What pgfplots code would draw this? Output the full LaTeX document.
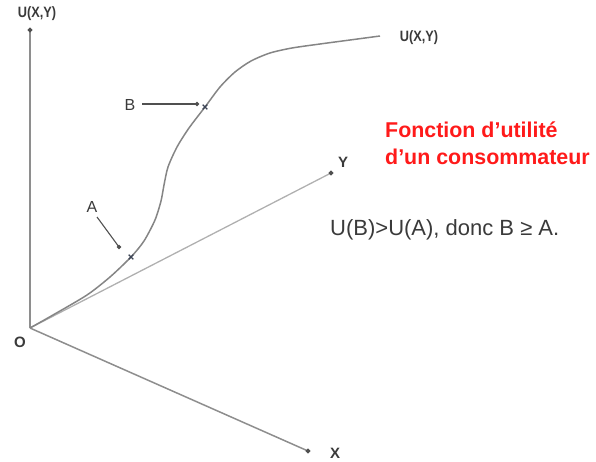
\documentclass[border=0pt]{standalone}
\usepackage{fontspec}
\setmainfont{Liberation Sans}
\usepackage{pgfplots}
\pgfplotsset{compat=1.18}

\definecolor{axisgray}{HTML}{8E8E8E}
\definecolor{curvegray}{HTML}{858585}
\definecolor{lightgray}{HTML}{B0B0B0}
\definecolor{arrowgray}{HTML}{505050}
\definecolor{txt}{HTML}{3A3A3A}
\definecolor{markc}{HTML}{3C4455}
\definecolor{titlered}{HTML}{FF1A1A}

\begin{document}
\begin{tikzpicture}
\begin{axis}[
  hide axis, scale only axis,
  width=596pt, height=461pt,
  xmin=0, xmax=596, ymin=0, ymax=461,
  clip=false,
]
% axes of the utility surface: U vertical, X and Y in perspective
\addplot[axisgray, line width=1.5pt, mark=*, mark indices={2}, mark size=1.6pt,
  mark options={fill=arrowgray, draw=arrowgray}] coordinates {(30,133) (30,431)};
\addplot[axisgray, line width=1.5pt, mark=*, mark indices={2}, mark size=1.6pt,
  mark options={fill=arrowgray, draw=arrowgray}] coordinates {(30,133) (308,10)};
\addplot[lightgray, line width=1.3pt, mark=*, mark indices={2}, mark size=1.6pt,
  mark options={fill=arrowgray, draw=arrowgray}] coordinates {(30,133) (331,288)};

% utility curve U(X,Y)
\addplot[curvegray, line width=1.5pt, smooth, tension=0.45] coordinates {
  (30,133) (53,146) (87,166) (110,184) (131,204) (144,220) (155,241)
  (161,260) (164,276) (168,294) (177,314) (189,333) (205,354)
  (220,374) (235,389) (251,400) (270,408) (292,413) (320,417) (350,421) (380,425)};

% bundles A and B on the curve
\addplot[only marks, mark=x, mark size=3.2pt, markc, line width=1.4pt]
  coordinates {(131,204) (205,354)};

% pointers to A and B
\addplot[arrowgray, line width=1.1pt, mark=*, mark indices={2}, mark size=1.5pt,
  mark options={fill=arrowgray}] coordinates {(97,244) (119,214)};
\addplot[arrowgray, line width=1.1pt, mark=*, mark indices={2}, mark size=1.5pt,
  mark options={fill=arrowgray}] coordinates {(142,357) (197,357)};

% labels
\node[txt, font=\fontsize{15}{16}\selectfont\bfseries, xscale=0.85] at (axis cs:37,447) {U(X,Y)};
\node[txt, font=\fontsize{15}{16}\selectfont\bfseries, xscale=0.85] at (axis cs:419,423) {U(X,Y)};
\node[txt, font=\fontsize{15}{16}\selectfont\bfseries] at (axis cs:20,119) {O};
\node[txt, font=\fontsize{15}{16}\selectfont\bfseries] at (axis cs:335,8) {X};
\node[txt, font=\fontsize{15}{16}\selectfont\bfseries] at (axis cs:343,299) {Y};
\node[txt, font=\fontsize{16}{17}\selectfont] at (axis cs:130,356) {B};
\node[txt, font=\fontsize{16}{17}\selectfont] at (axis cs:92,254) {A};

\node[titlered, anchor=base west, inner sep=0pt, font=\fontsize{21.4}{24}\selectfont\bfseries]
  at (axis cs:385,323) {Fonction d'utilité};
\node[titlered, anchor=base west, inner sep=0pt, font=\fontsize{21.4}{24}\selectfont\bfseries]
  at (axis cs:385,296) {d'un consommateur};
\node[txt, anchor=base west, inner sep=0pt, font=\fontsize{22}{24}\selectfont]
  at (axis cs:330,226) {U(B)>U(A), donc B ≥ A.};
\end{axis}
\pgfresetboundingbox
\path (current axis.south west) rectangle (current axis.north east);
\end{tikzpicture}
\end{document}
